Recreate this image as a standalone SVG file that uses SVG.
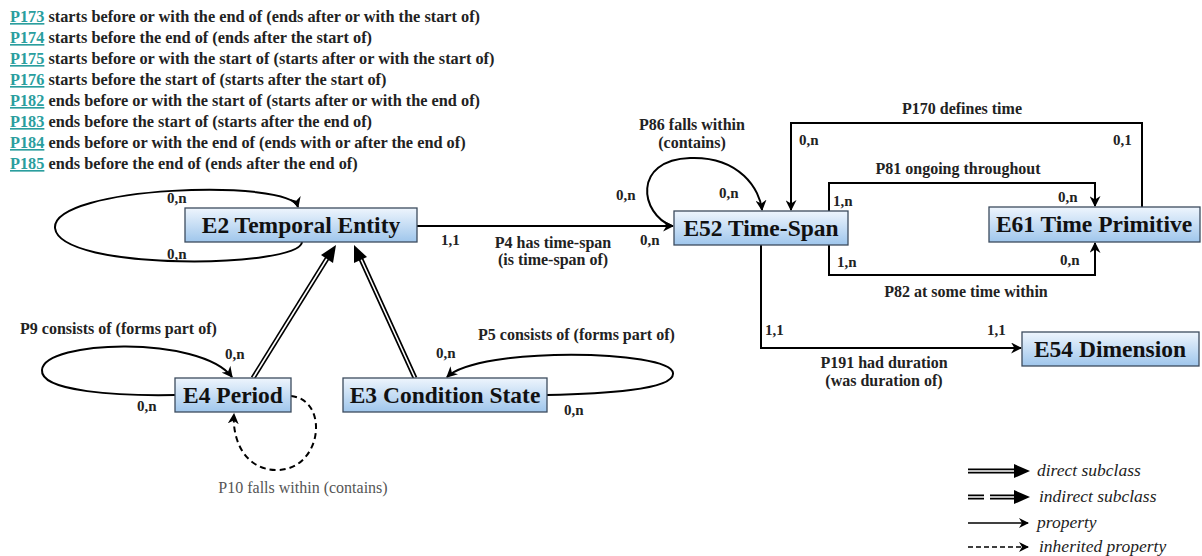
<svg xmlns="http://www.w3.org/2000/svg" width="1202" height="556" viewBox="0 0 1202 556">
<defs>
<linearGradient id="boxg" x1="0" y1="0" x2="0" y2="1">
<stop offset="0" stop-color="#eef5fd"/>
<stop offset="1" stop-color="#9fc6ec"/>
</linearGradient>
<marker id="arr" viewBox="0 0 10 10" refX="9" refY="5" markerWidth="11" markerHeight="11" markerUnits="userSpaceOnUse" orient="auto">
<path d="M0,0 L10,5 L0,10 L3,5 Z" fill="#000"/>
</marker>
<marker id="arrl" viewBox="0 0 10 10" refX="9" refY="5" markerWidth="10" markerHeight="10" markerUnits="userSpaceOnUse" orient="auto">
<path d="M0,0 L10,5 L0,10 L3,5 Z" fill="#000"/>
</marker>
</defs>
<style>
.box{fill:url(#boxg);stroke:#3c4c5e;stroke-width:1.3}
.nt{font-family:"Liberation Serif","Times New Roman",serif;font-weight:bold;font-size:23.5px;fill:#111;text-anchor:middle}
.lb{font-family:"Liberation Serif","Times New Roman",serif;font-weight:bold;font-size:15px;fill:#222}
.lt{font-family:"Liberation Serif","Times New Roman",serif;font-weight:bold;font-size:16px;fill:#222}
.lc{font-family:"Liberation Serif","Times New Roman",serif;font-weight:bold;font-size:16px;fill:#222;text-anchor:middle}
.li{font-family:"Liberation Serif","Times New Roman",serif;font-weight:bold;font-size:16.3px;fill:#222}
.pl{fill:#2a9e9e;text-decoration:underline}
.ed{fill:none;stroke:#000;stroke-width:2}
.dsh{fill:none;stroke:#000;stroke-width:2;stroke-dasharray:6,4}
.dbo{fill:none;stroke:#000;stroke-width:5}
.dbi{fill:none;stroke:#fff;stroke-width:1.6}
.lg{font-family:"Liberation Serif","Times New Roman",serif;font-style:italic;font-size:17.5px;fill:#222}
.gr{font-family:"Liberation Serif","Times New Roman",serif;font-size:16px;fill:#555;text-anchor:middle}
</style>

<g id="legend-list">
<text class="li" x="10" y="22"><tspan class="pl">P173</tspan> starts before or with the end of (ends after or with the start of)</text>
<text class="li" x="10" y="43"><tspan class="pl">P174</tspan> starts before the end of (ends after the start of)</text>
<text class="li" x="10" y="64"><tspan class="pl">P175</tspan> starts before or with the start of (starts after or with the start of)</text>
<text class="li" x="10" y="85"><tspan class="pl">P176</tspan> starts before the start of (starts after the start of)</text>
<text class="li" x="10" y="106"><tspan class="pl">P182</tspan> ends before or with the start of (starts after or with the end of)</text>
<text class="li" x="10" y="127"><tspan class="pl">P183</tspan> ends before the start of (starts after the end of)</text>
<text class="li" x="10" y="148"><tspan class="pl">P184</tspan> ends before or with the end of (ends with or after the end of)</text>
<text class="li" x="10" y="169"><tspan class="pl">P185</tspan> ends before the end of (ends after the end of)</text>
</g>

<g id="connectors">
<!-- E2 self loop -->
<path class="ed" d="M302,242 C300,268 60,272 55,228 C52,186 290,178 298,207" marker-end="url(#arr)"/>
<!-- P4 -->
<path class="ed" d="M417,226 L673,226" marker-end="url(#arr)"/>
<!-- P86 -->
<path class="ed" d="M672,226 C640,214 632,160 690,158 C740,156 760,190 762,210" marker-end="url(#arr)"/>
<!-- P170 -->
<path class="ed" d="M1142,207 L1142,123 L791,123 L791,210" marker-end="url(#arr)"/>
<!-- P81 -->
<path class="ed" d="M829,211 L829,183 L1095,183 L1095,206" marker-end="url(#arr)"/>
<!-- P82 -->
<path class="ed" d="M829,245 L829,275 L1095,275 L1095,243" marker-end="url(#arr)"/>
<!-- P191 -->
<path class="ed" d="M761,245 L761,348 L1021,348" marker-end="url(#arr)"/>
<!-- P9 -->
<path class="ed" d="M175,395 C120,396 40,392 42,370 C44,340 200,335 232,377" marker-end="url(#arr)"/>
<!-- P5 -->
<path class="ed" d="M547,395 C600,394 675,390 673,373 C670,350 480,346 447,377" marker-end="url(#arr)"/>
<!-- P10 dashed -->
<path class="dsh" d="M291,396 C330,400 322,470 277,470 C245,470 232,440 234,414" marker-end="url(#arr)"/>
<!-- subclass E4 -> E2 -->
<path class="dbo" d="M253,378 L328,257"/>
<path class="dbi" d="M253,378 L328,257"/>
<polygon points="336,245 333,263 321,255" fill="#000"/>
<!-- subclass E3 -> E2 -->
<path class="dbo" d="M415,378 L360,257"/>
<path class="dbi" d="M415,378 L360,257"/>
<polygon points="354,245 367,257 354,263" fill="#000"/>
</g>

<g id="labels">
<text class="lb" x="167" y="203">0,n</text>
<text class="lb" x="167" y="259">0,n</text>
<text class="lb" x="441" y="245">1,1</text>
<text class="lc" x="553" y="248">P4 has time-span</text>
<text class="lc" x="553" y="265">(is time-span of)</text>
<text class="lb" x="640" y="245">0,n</text>
<text class="lc" x="692" y="130">P86 falls within</text>
<text class="lc" x="692" y="148">(contains)</text>
<text class="lb" x="616" y="200">0,n</text>
<text class="lb" x="719" y="198">0,n</text>
<text class="lc" x="962" y="114">P170 defines time</text>
<text class="lb" x="799" y="145">0,n</text>
<text class="lb" x="1113" y="145">0,1</text>
<text class="lc" x="958" y="174">P81 ongoing throughout</text>
<text class="lb" x="833" y="206">1,n</text>
<text class="lb" x="1058" y="202">0,n</text>
<text class="lb" x="837" y="267">1,n</text>
<text class="lb" x="1060" y="265">0,n</text>
<text class="lc" x="966" y="297">P82 at some time within</text>
<text class="lb" x="765" y="335">1,1</text>
<text class="lb" x="987" y="335">1,1</text>
<text class="lc" x="884" y="368">P191 had duration</text>
<text class="lc" x="884" y="386">(was duration of)</text>
<text class="lt" x="20" y="334">P9 consists of (forms part of)</text>
<text class="lb" x="225" y="359">0,n</text>
<text class="lb" x="137" y="411">0,n</text>
<text class="lt" x="478" y="340">P5 consists of (forms part of)</text>
<text class="lb" x="436" y="358">0,n</text>
<text class="lb" x="564" y="415">0,n</text>
<text class="gr" x="303" y="493">P10 falls within (contains)</text>
</g>

<g id="E2">
<rect class="box" x="185" y="208" width="232" height="34"/>
<text class="nt" x="301" y="233">E2 Temporal Entity</text>
</g>
<g id="E52">
<rect class="box" x="674" y="211" width="174" height="34"/>
<text class="nt" x="761" y="236">E52 Time-Span</text>
</g>
<g id="E61">
<rect class="box" x="989" y="207" width="211" height="35"/>
<text class="nt" x="1094" y="232">E61 Time Primitive</text>
</g>
<g id="E54">
<rect class="box" x="1022" y="332" width="177" height="34"/>
<text class="nt" x="1110" y="357">E54 Dimension</text>
</g>
<g id="E4">
<rect class="box" x="175" y="378" width="116" height="34"/>
<text class="nt" x="233" y="403">E4 Period</text>
</g>
<g id="E3">
<rect class="box" x="343" y="378" width="204" height="34"/>
<text class="nt" x="445" y="403">E3 Condition State</text>
</g>

<g id="legend">
<path class="dbo" d="M968,471 L1016,471"/>
<path class="dbi" d="M968,471 L1016,471"/>
<polygon points="1030,471 1014,464 1014,478" fill="#000"/>
<text class="lg" x="1037" y="476">direct subclass</text>
<path class="dbo" d="M968,497 L984,497 M990,497 L1016,497"/>
<path class="dbi" d="M968,497 L984,497 M990,497 L1016,497"/>
<polygon points="1030,497 1014,490 1014,504" fill="#000"/>
<text class="lg" x="1039" y="502">indirect subclass</text>
<path d="M968,523 L1028,523" stroke="#000" stroke-width="1.6" marker-end="url(#arrl)"/>
<text class="lg" x="1037" y="528">property</text>
<path d="M968,547 L1028,547" stroke="#000" stroke-width="1.6" stroke-dasharray="5,3" marker-end="url(#arrl)"/>
<text class="lg" x="1039" y="552">inherited property</text>
</g>
</svg>
